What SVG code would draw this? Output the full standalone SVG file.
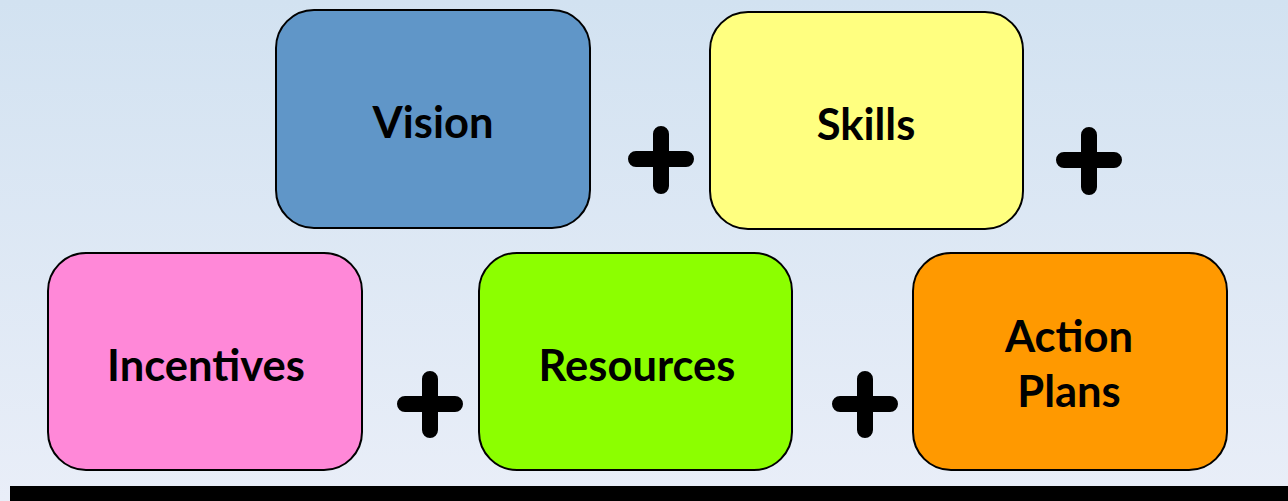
<svg xmlns="http://www.w3.org/2000/svg" width="1288" height="501" viewBox="0 0 1288 501">
<defs>
<linearGradient id="bg" x1="0" y1="0" x2="0" y2="1">
<stop offset="0" stop-color="#d2e2f1"/>
<stop offset="1" stop-color="#e9eef8"/>
</linearGradient>
</defs>
<style>
.box{stroke:#000;stroke-width:2}
.lbl{font-family:Lato,"Liberation Sans",sans-serif;font-weight:bold;font-size:43.5px;fill:#000;text-anchor:middle}
.plus{stroke:#000;stroke-width:16;stroke-linecap:round;fill:none}
</style>
<rect width="1288" height="501" fill="url(#bg)"/>
<rect x="10" y="486" width="1278" height="15" fill="#000"/>
<g id="vision"><rect class="box" x="276" y="10" width="314" height="218" rx="38" fill="#6096c8"/><text class="lbl" x="433" y="138">Vision</text></g>
<g id="skills"><rect class="box" x="710" y="12" width="313" height="217" rx="38" fill="#ffff80"/><text class="lbl" x="866" y="140">Skills</text></g>
<g id="incentives"><rect class="box" x="48" y="253" width="314" height="217" rx="38" fill="#ff88d8"/><text class="lbl" x="206" y="381">Incentives</text></g>
<g id="resources"><rect class="box" x="479" y="253" width="313" height="217" rx="38" fill="#8cff00"/><text class="lbl" x="637" y="381">Resources</text></g>
<g id="action"><rect class="box" x="913" y="253" width="314" height="217" rx="38" fill="#ff9900"/><text class="lbl" x="1069" y="352">Action</text><text class="lbl" x="1069" y="407">Plans</text></g>
<g id="connectors">
<path class="plus" d="M636 159H686M661 134V186"/>
<path class="plus" d="M1064 160H1114M1089 135V187"/>
<path class="plus" d="M405 404H455M430 379V430"/>
<path class="plus" d="M840 404H890M865 379V430"/>
</g>
</svg>
